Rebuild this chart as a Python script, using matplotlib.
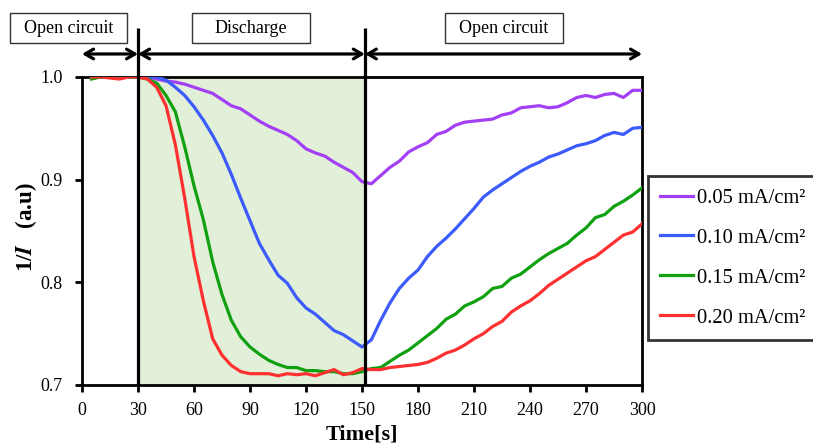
import numpy as np
import matplotlib
matplotlib.use('Agg')
import matplotlib.pyplot as plt
from matplotlib.patches import Rectangle

plt.rcParams['font.family'] = ['Liberation Serif', 'DejaVu Serif']
plt.rcParams['mathtext.fontset'] = 'stix'

# thời gian (s)
time = np.arange(5, 301, 5)

i_005 = [1.0, 1.0, 1.0, 1.0, 1.0, 1.0, 1.0, 0.998, 0.996, 0.995,
         0.993, 0.990, 0.987, 0.984, 0.978, 0.972, 0.969, 0.963, 0.957, 0.952,
         0.948, 0.944, 0.938, 0.930, 0.926, 0.923, 0.917, 0.912, 0.907, 0.898,
         0.896, 0.904, 0.912, 0.918, 0.927, 0.932, 0.936, 0.944, 0.947, 0.953,
         0.956, 0.957, 0.958, 0.959, 0.963, 0.965, 0.970, 0.971, 0.972, 0.970,
         0.971, 0.975, 0.980, 0.982, 0.980, 0.983, 0.984, 0.980, 0.987, 0.987]
i_010 = [1.0, 1.0, 1.0, 1.0, 1.0, 1.0, 1.0, 1.0, 0.997, 0.990,
         0.982, 0.971, 0.958, 0.943, 0.926, 0.905, 0.882, 0.860, 0.838, 0.822,
         0.807, 0.799, 0.785, 0.775, 0.769, 0.761, 0.753, 0.749, 0.743, 0.737,
         0.744, 0.763, 0.780, 0.794, 0.804, 0.812, 0.825, 0.835, 0.843, 0.852,
         0.862, 0.872, 0.883, 0.890, 0.896, 0.902, 0.908, 0.913, 0.917, 0.922,
         0.925, 0.929, 0.933, 0.935, 0.938, 0.943, 0.946, 0.944, 0.950, 0.951]
i_015 = [0.998, 1.0, 1.0, 1.0, 1.0, 1.0, 0.998, 0.994, 0.982, 0.966,
         0.932, 0.894, 0.861, 0.820, 0.788, 0.763, 0.747, 0.737, 0.730, 0.724,
         0.720, 0.717, 0.717, 0.714, 0.714, 0.713, 0.713, 0.711, 0.711, 0.713,
         0.716, 0.717, 0.723, 0.729, 0.734, 0.741, 0.748, 0.755, 0.764, 0.769,
         0.777, 0.781, 0.786, 0.794, 0.796, 0.804, 0.808, 0.815, 0.822, 0.828,
         0.833, 0.838, 0.846, 0.853, 0.863, 0.866, 0.874, 0.879, 0.885, 0.892]
i_020 = [1.0, 1.0, 0.999, 0.998, 1.0, 1.0, 0.998, 0.990, 0.972, 0.934,
         0.882, 0.825, 0.782, 0.745, 0.729, 0.719, 0.713, 0.711, 0.711, 0.711,
         0.709, 0.711, 0.710, 0.711, 0.709, 0.712, 0.715, 0.710, 0.712, 0.716,
         0.715, 0.715, 0.717, 0.718, 0.719, 0.720, 0.722, 0.726, 0.731, 0.734,
         0.739, 0.745, 0.750, 0.757, 0.762, 0.771, 0.777, 0.782, 0.789, 0.797,
         0.803, 0.809, 0.815, 0.821, 0.825, 0.832, 0.839, 0.846, 0.849, 0.857]

labels = ['0.05 mA/cm²', '0.10 mA/cm²', '0.15 mA/cm²', '0.20 mA/cm²']
colors = ['#a33ff5', '#3b5bfd', '#10a010', '#ff3030']

t_start = 30      # bắt đầu phóng điện
t_stop = 151.5    # kết thúc phóng điện

fig = plt.figure(figsize=(8.13, 4.46), dpi=100)
ax = fig.add_axes([0.1009, 0.1368, 0.6888, 0.6906])

# vùng phóng điện
ax.axvspan(t_start, t_stop, color='#e2efd9', zorder=0)

for y, lab, c in zip([i_005, i_010, i_015, i_020], labels, colors):
    ax.plot(time, y, color=c, lw=2.3, label=lab, zorder=3)

ax.set_xlim(0, 300)
ax.set_ylim(0.7, 1.0)
ax.set_xticks(np.arange(0, 301, 30))
ax.set_yticks([0.7, 0.8, 0.9, 1.0])
ax.set_yticklabels(['0.7', '0.8', '0.9', '1.0'])
ax.tick_params(direction='out', length=5, width=2, labelsize=13)
ax.tick_params(axis='y', pad=9)
ax.tick_params(axis='x', pad=7)
for s in ax.spines.values():
    s.set_linewidth(2)

# vạch đứng tại các mốc chuyển trạng thái
ax.vlines([t_start, t_stop], 0.7, 1.048, colors='black', lw=2.3,
          clip_on=False, zorder=5)

# mũi tên hai chiều
y_arrow = 1.0224
for a, b in [(0, t_start), (t_start, t_stop), (t_stop, 300)]:
    ax.annotate('', xy=(b, y_arrow), xytext=(a, y_arrow), annotation_clip=False,
                arrowprops=dict(arrowstyle='<->,head_length=0.6,head_width=0.35',
                                lw=2.3, color='black', shrinkA=0, shrinkB=0))

# hộp chú thích trạng thái
for x0, x1, txt in [(-38.6, 24.1, 'Open circuit'), (58.9, 122.1, 'Discharge'),
                    (194.4, 257.6, 'Open circuit')]:
    ax.add_patch(Rectangle((x0, 1.0331), x1 - x0, 0.0292, fill=False,
                           ec='#333333', lw=1, clip_on=False))
    ax.text((x0 + x1) / 2, 1.0477, txt, ha='center', va='center',
            fontsize=13, clip_on=False)

ax.set_xlabel('Time[s]', fontsize=16, fontweight='bold', labelpad=4)
ax.set_ylabel(r'1/$\mathbfit{I}$   (a.u)', fontsize=16.5, fontweight='bold')
ax.yaxis.set_label_coords(-0.077, 0.513)

fig.legend(loc='upper left', bbox_to_anchor=(648 / 813, 1 - 176 / 446),
           fontsize=14.8, frameon=True, fancybox=False, edgecolor='black',
           handlelength=1.6, handletextpad=0.2, labelspacing=1.0,
           borderpad=0.6, borderaxespad=0).get_frame().set_linewidth(2)

fig.savefig('out.png', dpi=100)
